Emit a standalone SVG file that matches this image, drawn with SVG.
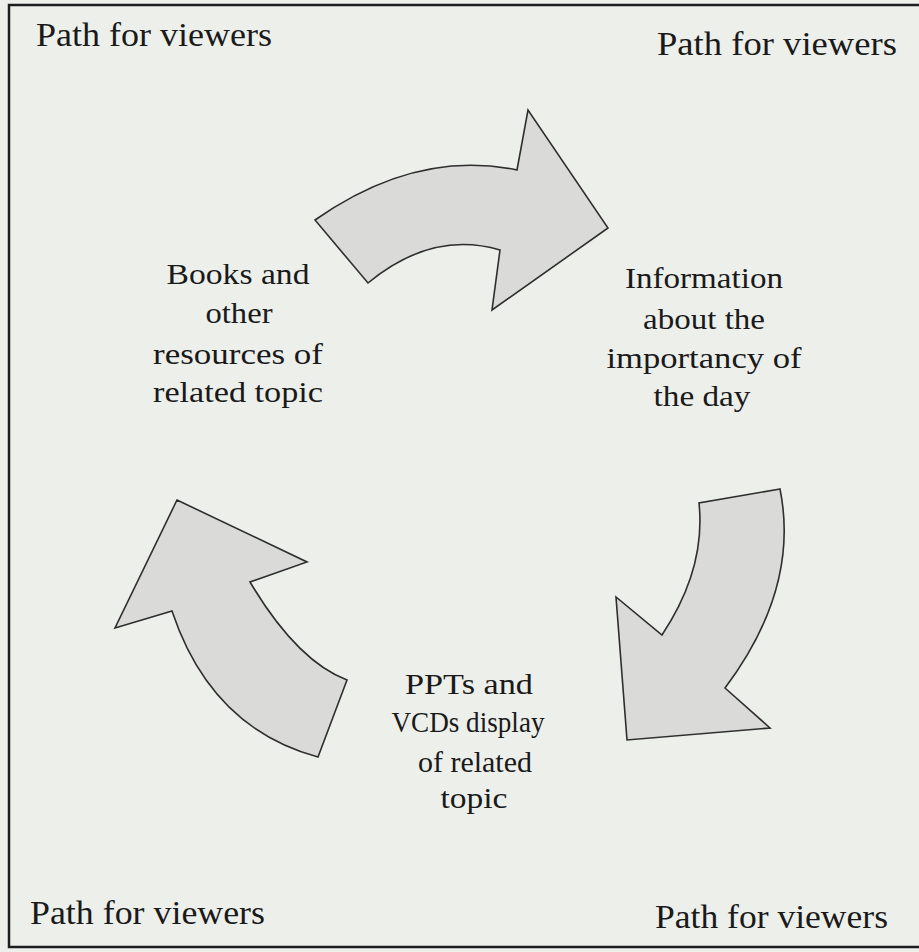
<svg xmlns="http://www.w3.org/2000/svg" width="919" height="952" viewBox="0 0 919 952">
  <style>
    .bg { fill: #edefeb; }
    .frame { fill: none; stroke: #1e1e1e; stroke-width: 2.5; }
    .arrow { fill: #dadbd8; stroke: #2e2e2e; stroke-width: 1.6; stroke-linejoin: miter; }
    .corner { font-family: "Liberation Serif", "Times New Roman", serif; font-size: 34px; fill: #1a1a1a; }
    .label { font-family: "Liberation Serif", "Times New Roman", serif; font-size: 30px; fill: #1a1a1a; text-anchor: middle; }
  </style>

  <rect class="bg" x="0" y="0" width="919" height="952"/>
  <rect class="frame" x="9" y="5" width="930" height="942"/>

  <!-- corner captions -->
  <g id="corner-labels">
    <text class="corner" x="36" y="46" textLength="236" lengthAdjust="spacingAndGlyphs">Path for viewers</text>
    <text class="corner" x="657" y="55" textLength="240" lengthAdjust="spacingAndGlyphs">Path for viewers</text>
    <text class="corner" x="30" y="924" textLength="235" lengthAdjust="spacingAndGlyphs">Path for viewers</text>
    <text class="corner" x="655" y="928" textLength="233" lengthAdjust="spacingAndGlyphs">Path for viewers</text>
  </g>

  <!-- cycle nodes -->
  <g id="node-books">
    <text class="label" x="238" y="284" textLength="143" lengthAdjust="spacingAndGlyphs">Books and</text>
    <text class="label" x="239" y="323" textLength="67" lengthAdjust="spacingAndGlyphs">other</text>
    <text class="label" x="238" y="364" textLength="170" lengthAdjust="spacingAndGlyphs">resources of</text>
    <text class="label" x="238" y="402" textLength="170" lengthAdjust="spacingAndGlyphs">related topic</text>
  </g>
  <g id="node-information">
    <text class="label" x="704" y="288" textLength="158" lengthAdjust="spacingAndGlyphs">Information</text>
    <text class="label" x="704" y="329" textLength="122" lengthAdjust="spacingAndGlyphs">about the</text>
    <text class="label" x="704" y="368" textLength="195" lengthAdjust="spacingAndGlyphs">importancy of</text>
    <text class="label" x="702" y="406" textLength="97" lengthAdjust="spacingAndGlyphs">the day</text>
  </g>
  <g id="node-ppts">
    <text class="label" x="469" y="694" textLength="128" lengthAdjust="spacingAndGlyphs">PPTs and</text>
    <text class="label" x="468" y="732" textLength="153" lengthAdjust="spacingAndGlyphs">VCDs display</text>
    <text class="label" x="475" y="772" textLength="114" lengthAdjust="spacingAndGlyphs">of related</text>
    <text class="label" x="474" y="808" textLength="67" lengthAdjust="spacingAndGlyphs">topic</text>
  </g>

  <!-- curved block arrows linking the nodes -->
  <g id="connectors">
    <path class="arrow" d="M315,220 Q416,149 517,170 L528,110 L608,228 L492,310 L500,250 Q432,230 368,283 Z"/>
    <path class="arrow" d="M780,489 L699,503 Q706,569 662,635 L616,597 L627,740 L770,728 L725,688 Q800,588 780,489 Z"/>
    <path class="arrow" d="M177,500 L307,562 L250,582 Q297,661 347,680 L318,757 Q211,728 172,611 L115,628 Z"/>
  </g>
</svg>
